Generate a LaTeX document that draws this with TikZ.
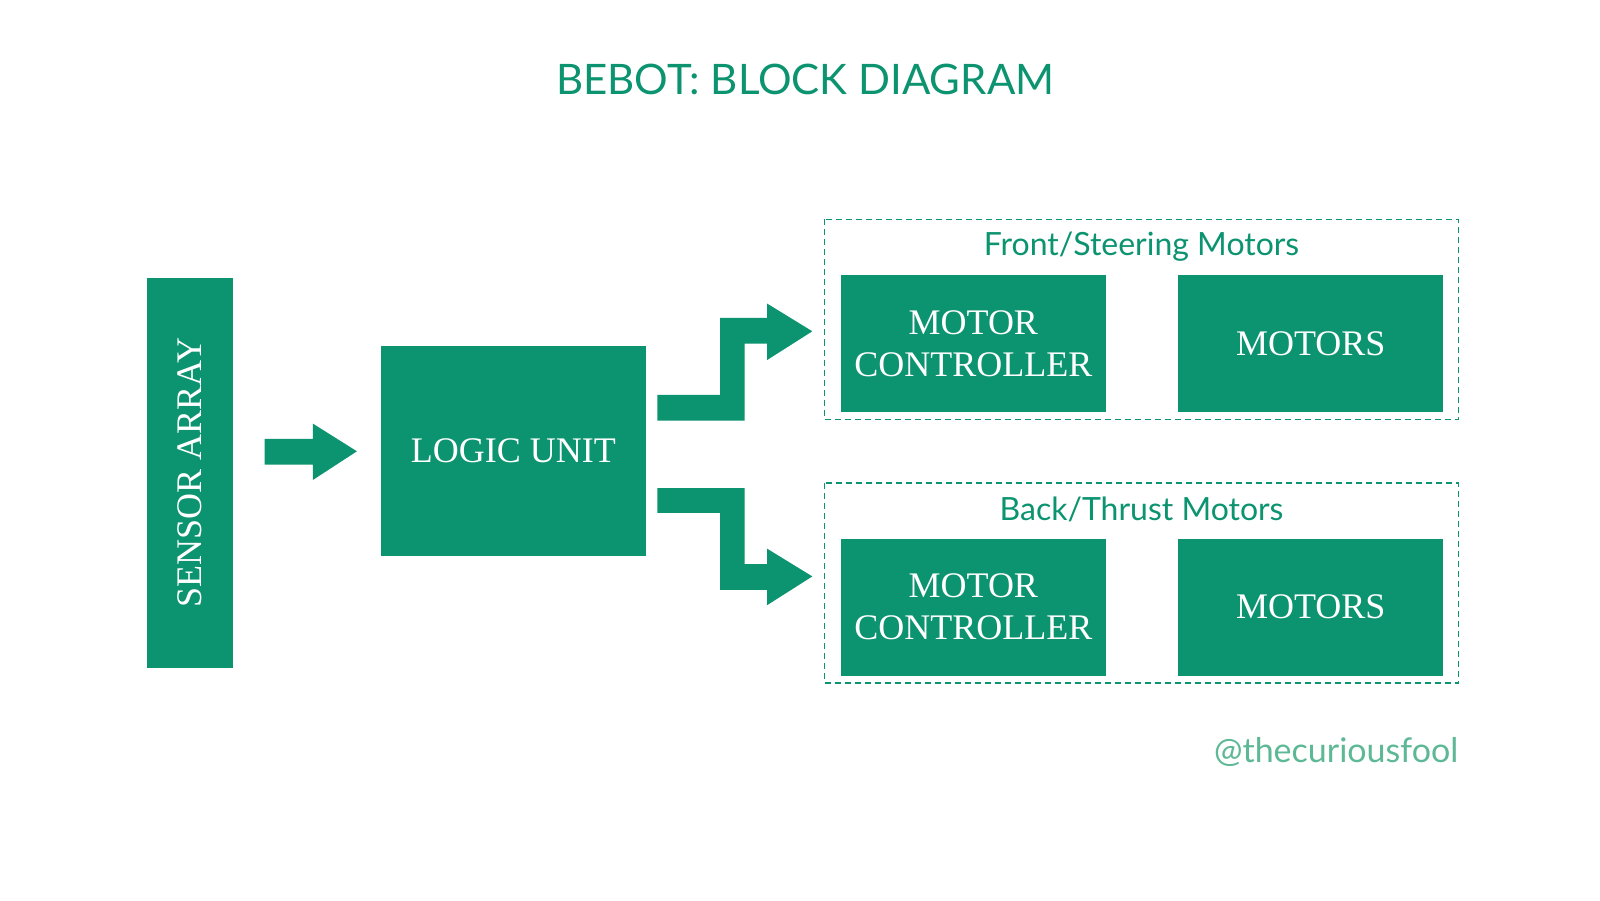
\documentclass[tikz,border=0pt]{standalone}
\usepackage{fontspec}
\setmainfont{Liberation Serif}
\newfontfamily\lato{Lato}
\definecolor{bg}{HTML}{0C9370}
\definecolor{wm}{HTML}{5DB896}
\begin{document}
\begin{tikzpicture}[x=1.0256pt,y=-1.0256pt,
  blk/.style={fill=bg,draw=none,text=white,font=\fontsize{36}{42}\selectfont,align=center},
  grp/.style={draw=bg,line width=1.5pt,dash pattern=on 6pt off 4pt},
  lbl/.style={text=bg,font=\lato\fontsize{32}{36}\selectfont}]
\useasboundingbox[fill=white] (0,0) rectangle (1560,877.5);
\node[text=bg,font=\lato\fontsize{42}{46}\selectfont] (title) at (785,77) {BEBOT: BLOCK DIAGRAM};
\path[fill=bg] (143,271) rectangle (227,651);
\node[blk,rotate=90] (sensor) at (185,461) {SENSOR ARRAY};
\node[blk,minimum width=265,minimum height=210] (logic) at (500.5,439.5) {LOGIC UNIT};
\fill[bg] (258,428) -- (305,428) -- (305,413) -- (348,440) -- (305,468) -- (305,453) -- (258,453) -- cycle;
\fill[bg] (641,385)--(702,385)--(702,310)--(748,310)--(748,296)--(792,323)--(748,351)--(748,335)--(726,335)--(726,410)--(641,410)--cycle;
\fill[bg] (641,476)--(726,476)--(726,550)--(748,550)--(748,535)--(792,562)--(748,590)--(748,575)--(702,575)--(702,500)--(641,500)--cycle;
\draw[grp] (804,214) rectangle (1422,409);
\draw[grp] (804,471) rectangle (1422,666);
\node[lbl] (g1) at (1113,240) {Front/Steering Motors};
\node[lbl] (g2) at (1113,497) {Back/Thrust Motors};
\node[blk,minimum width=265,minimum height=137] (mc1) at (949,335) {MOTOR\\CONTROLLER};
\node[blk,minimum width=265,minimum height=137] (m1) at (1278,335) {MOTORS};
\node[blk,minimum width=265,minimum height=137] (mc2) at (949,592) {MOTOR\\CONTROLLER};
\node[blk,minimum width=265,minimum height=137] (m2) at (1278,592) {MOTORS};
\node[text=wm,font=\lato\fontsize{34}{38}\selectfont,anchor=east,inner sep=0pt] (wm) at (1422,733) {@thecuriousfool};
\end{tikzpicture}
\end{document}
